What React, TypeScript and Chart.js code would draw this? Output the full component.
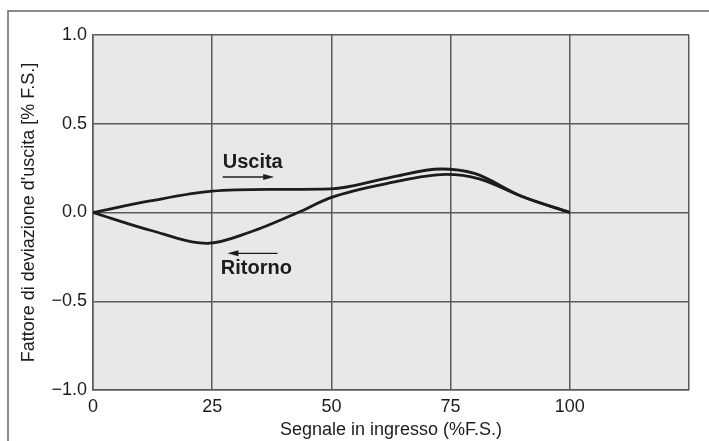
import React, { useEffect, useRef } from "react";
import { Chart, registerables } from "chart.js";

Chart.register(...registerables);

const uscitaX = [0, 12, 25, 38, 50, 62, 73, 80, 90, 100];
const uscitaY = [0, 0.065, 0.12, 0.13, 0.133, 0.195, 0.245, 0.22, 0.09, 0];
const ritornoX = [0, 12, 24, 33, 43, 50, 62, 74, 81, 90, 100];
const ritornoY = [0, -0.1, -0.174, -0.11, 0, 0.085, 0.165, 0.215, 0.19, 0.09, 0];

const xTicks = [0, 25, 50, 75, 100, 125];
const xTickLabels = ["0", "25", "50", "75", "100", ""];
const yTicks = [-1, -0.5, 0, 0.5, 1];
const yTickLabels = ["\u22121.0", "\u22120.5", "0.0", "0.5", "1.0"];

const xTitle = "Segnale in ingresso (%F.S.)";
const yTitle = "Fattore di deviazione d'uscita [% F.S.]";

// annotation anchors in data units
const uscitaLabel = { text: "Uscita", x: 27.2, y: 0.28, arrowFrom: 27.2, arrowTo: 38, arrowY: 0.2 };
const ritornoLabel = { text: "Ritorno", x: 26.8, y: -0.316, arrowFrom: 38.7, arrowTo: 28.2, arrowY: -0.23 };

const FONT = "'Liberation Sans', Arial, Helvetica, sans-serif";
const INK = "#1c1c1c";
const GRID = "#5a5a5a";

export default function App() {
  const ref = useRef<HTMLCanvasElement | null>(null);

  useEffect(() => {
    document.body.style.margin = "0";
    const canvas = ref.current;
    if (!canvas) return;

    const bgPlugin = {
      id: "bg",
      beforeDraw(chart: any) {
        const { ctx, chartArea } = chart;
        ctx.save();
        ctx.fillStyle = "#ffffff";
        ctx.fillRect(0, 0, chart.width, chart.height);
        ctx.fillStyle = "#e8e8e8";
        ctx.fillRect(chartArea.left, chartArea.top, chartArea.right - chartArea.left, chartArea.bottom - chartArea.top);
        // figure frame (top & left)
        ctx.strokeStyle = "#666666";
        ctx.lineWidth = 1.5;
        ctx.beginPath();
        ctx.moveTo(8, chart.height);
        ctx.lineTo(8, 11);
        ctx.lineTo(chart.width, 11);
        ctx.stroke();
        ctx.restore();
      },
    };

    const annoPlugin = {
      id: "anno",
      afterDatasetsDraw(chart: any) {
        const { ctx } = chart;
        const xs = chart.scales.x;
        const ys = chart.scales.y;
        const drawArrow = (x1: number, x2: number, y: number) => {
          const dir = Math.sign(x2 - x1);
          ctx.strokeStyle = INK;
          ctx.fillStyle = INK;
          ctx.lineWidth = 1.3;
          ctx.beginPath();
          ctx.moveTo(x1, y);
          ctx.lineTo(x2 - dir * 8, y);
          ctx.stroke();
          ctx.beginPath();
          ctx.moveTo(x2, y);
          ctx.lineTo(x2 - dir * 11, y - 3);
          ctx.lineTo(x2 - dir * 11, y + 3);
          ctx.closePath();
          ctx.fill();
        };
        ctx.save();
        ctx.font = `bold 20px ${FONT}`;
        ctx.fillStyle = INK;
        ctx.textBaseline = "middle";
        ctx.textAlign = "left";
        for (const a of [uscitaLabel, ritornoLabel]) {
          ctx.fillText(a.text, xs.getPixelForValue(a.x), ys.getPixelForValue(a.y));
          drawArrow(xs.getPixelForValue(a.arrowFrom), xs.getPixelForValue(a.arrowTo), ys.getPixelForValue(a.arrowY));
        }
        ctx.restore();
      },
    };

    const chart = new Chart(canvas, {
      type: "line",
      data: {
        datasets: [
          {
            label: "Uscita",
            data: uscitaX.map((x, i) => ({ x, y: uscitaY[i] })),
            borderColor: INK,
            borderWidth: 2.8,
            pointRadius: 0,
            cubicInterpolationMode: "monotone",
            fill: false,
          },
          {
            label: "Ritorno",
            data: ritornoX.map((x, i) => ({ x, y: ritornoY[i] })),
            borderColor: INK,
            borderWidth: 2.8,
            pointRadius: 0,
            cubicInterpolationMode: "monotone",
            fill: false,
          },
        ],
      },
      options: {
        animation: false,
        responsive: false,
        maintainAspectRatio: false,
        layout: { padding: { top: 35, right: 20, left: 18, bottom: 0 } },
        plugins: { legend: { display: false }, tooltip: { enabled: false } },
        scales: {
          x: {
            type: "linear",
            min: 0,
            max: 125,
            afterBuildTicks: (s: any) => {
              s.ticks = xTicks.map((v) => ({ value: v }));
            },
            afterFit: (s: any) => {
              s.height = 51;
            },
            ticks: {
              callback: (v: any) => xTickLabels[xTicks.indexOf(Number(v))] ?? "",
              color: INK,
              font: { family: FONT, size: 18 },
              padding: 6,
              maxRotation: 0,
              autoSkip: false,
            },
            grid: { color: GRID, lineWidth: 1.5, drawTicks: false },
            border: { display: true, color: GRID, width: 1.5 },
            title: {
              display: true,
              text: xTitle,
              color: INK,
              font: { family: FONT, size: 18 },
              padding: { top: 2, bottom: 0 },
            },
          },
          y: {
            type: "linear",
            min: -1,
            max: 1,
            afterBuildTicks: (s: any) => {
              s.ticks = yTicks.map((v) => ({ value: v }));
            },
            afterFit: (s: any) => {
              s.width = 75;
            },
            ticks: {
              callback: (v: any) => yTickLabels[yTicks.indexOf(Number(v))] ?? "",
              color: INK,
              font: { family: FONT, size: 18 },
              padding: 6,
              autoSkip: false,
            },
            grid: { color: GRID, lineWidth: 1.5, drawTicks: false },
            border: { display: true, color: GRID, width: 1.5 },
            title: {
              display: true,
              text: yTitle,
              color: INK,
              font: { family: FONT, size: 18 },
              padding: { top: 0, bottom: 0 },
            },
          },
        },
      },
      plugins: [bgPlugin, annoPlugin],
    } as any);

    return () => chart.destroy();
  }, []);

  return <canvas ref={ref} width={709} height={441} style={{ display: "block", width: 709, height: 441 }} />;
}
